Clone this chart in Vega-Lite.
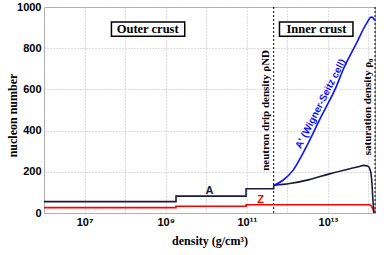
{
  "$schema": "https://vega.github.io/schema/vega-lite/v6.json",
  "width": 331,
  "height": 206,
  "autosize": {"type": "none"},
  "padding": {"left": 44, "top": 7, "right": 15, "bottom": 42},
  "background": "white",
  "config": {
    "view": {"stroke": "#aaaaaa", "strokeWidth": 1}
  },
  "datasets": {
    "steps": [
      {"s": "A", "i": 1, "x": 1e6, "y": 55},
      {"s": "A", "i": 2, "x": 1.8e9, "y": 55},
      {"s": "A", "i": 3, "x": 1.8e9, "y": 82},
      {"s": "A", "i": 4, "x": 9.6e10, "y": 82},
      {"s": "A", "i": 5, "x": 9.6e10, "y": 118},
      {"s": "A", "i": 6, "x": 4.6e11, "y": 118},
      {"s": "A", "i": 7, "x": 4.6e11, "y": 134},
      {"s": "Z", "i": 1, "x": 1e6, "y": 26},
      {"s": "Z", "i": 2, "x": 1.8e9, "y": 26},
      {"s": "Z", "i": 3, "x": 1.8e9, "y": 33},
      {"s": "Z", "i": 4, "x": 9.6e10, "y": 33},
      {"s": "Z", "i": 5, "x": 9.6e10, "y": 40},
      {"s": "Z", "i": 6, "x": 1.05e14, "y": 40},
      {"s": "Z", "i": 7, "x": 1.12e14, "y": 38},
      {"s": "Z", "i": 8, "x": 1.2e14, "y": 32},
      {"s": "Z", "i": 9, "x": 1.28e14, "y": 20},
      {"s": "Z", "i": 10, "x": 1.35e14, "y": 7},
      {"s": "Z", "i": 11, "x": 1.4e14, "y": 0}
    ],
    "curves": [
      {"s": "A", "x": 4.6e11, "y": 134},
      {"s": "A", "x": 1.15e12, "y": 143},
      {"s": "A", "x": 3.5e12, "y": 162},
      {"s": "A", "x": 1.1e13, "y": 190},
      {"s": "A", "x": 3.5e13, "y": 215},
      {"s": "A", "x": 6.0e13, "y": 226},
      {"s": "A", "x": 7.5e13, "y": 231},
      {"s": "A", "x": 9.5e13, "y": 228},
      {"s": "A", "x": 1.11e14, "y": 207},
      {"s": "A", "x": 1.22e14, "y": 143},
      {"s": "A", "x": 1.29e14, "y": 62},
      {"s": "A", "x": 1.37e14, "y": 0},
      {"s": "A'", "x": 4.6e11, "y": 134},
      {"s": "A'", "x": 7.8e11, "y": 159},
      {"s": "A'", "x": 1.38e12, "y": 207},
      {"s": "A'", "x": 2.4e12, "y": 288},
      {"s": "A'", "x": 4.27e12, "y": 385},
      {"s": "A'", "x": 6.3e12, "y": 455},
      {"s": "A'", "x": 9.1e12, "y": 515},
      {"s": "A'", "x": 1.62e13, "y": 615},
      {"s": "A'", "x": 2.34e13, "y": 693},
      {"s": "A'", "x": 5.0e13, "y": 822},
      {"s": "A'", "x": 8.9e13, "y": 919},
      {"s": "A'", "x": 1.17e14, "y": 951},
      {"s": "A'", "x": 1.3e14, "y": 948},
      {"s": "A'", "x": 1.42e14, "y": 935}
    ],
    "boxes": [
      {"x": 4.6e7, "x2": 2.95e9, "y": 858, "y2": 927},
      {"x": 6.4e11, "x2": 4.15e13, "y": 858, "y2": 927}
    ],
    "boxText": [
      {"t": "Outer crust", "x": 3.6e8, "y": 892},
      {"t": "Inner crust", "x": 5.2e12, "y": 892}
    ],
    "rules": [
      {"x": 4.6e11},
      {"x": 1.45e14}
    ],
    "vText": [
      {"t": "neutron drip density ρND", "x": 3.0e11, "y": 498},
      {"t": "saturation density ρ₀", "x": 9.5e13, "y": 515}
    ],
    "seriesText": [
      {"s": "A", "t": "A", "x": 1.2e10, "y": 105},
      {"s": "Z", "t": "Z", "x": 2.2e11, "y": 62}
    ],
    "primeText": [
      {"s": "A'", "t": "A' (Wigner-Seitz cell)", "x": 6.6e12, "y": 530}
    ]
  },
  "layer": [
    {
      "data": {"name": "boxes"},
      "mark": {"type": "rect", "fill": "white", "stroke": "black", "strokeWidth": 1.5},
      "encoding": {
        "x": {
          "field": "x", "type": "quantitative",
          "scale": {"type": "log", "domain": [1e6, 1.45e14], "nice": false},
          "axis": {
            "title": "density (g/cm³)",
            "values": [1e6, 1e7, 1e8, 1e9, 1e10, 1e11, 1e12, 1e13, 1e14],
            "labelExpr": "datum.value == 1e7 ? '10⁷' : datum.value == 1e9 ? '10⁹' : datum.value == 1e11 ? '10¹¹' : datum.value == 1e13 ? '10¹³' : ''",
            "grid": true, "gridDash": [1, 2], "gridColor": "#bbbbbb",
            "ticks": false, "domain": false,
            "labelFont": "Liberation Sans", "labelFontWeight": "bold", "labelFontSize": 11, "labelColor": "black",
            "labelPadding": 3, "labelFlush": false,
            "titleFont": "Liberation Serif", "titleFontWeight": "bold", "titleFontSize": 12, "titleColor": "black",
            "titlePadding": 8
          }
        },
        "x2": {"field": "x2"},
        "y": {
          "field": "y", "type": "quantitative",
          "scale": {"domain": [0, 1000], "nice": false},
          "axis": {
            "title": "nucleon number",
            "values": [0, 50, 100, 150, 200, 250, 300, 350, 400, 450, 500, 550, 600, 650, 700, 750, 800, 850, 900, 950, 1000],
            "format": "d",
            "labelExpr": "datum.value % 200 == 0 ? datum.label : ''",
            "grid": true, "gridDash": [1, 2], "gridColor": "#bbbbbb",
            "ticks": false, "domain": false,
            "labelFont": "Liberation Sans", "labelFontWeight": "bold", "labelFontSize": 11, "labelColor": "black",
            "labelPadding": 3,
            "titleFont": "Liberation Serif", "titleFontWeight": "bold", "titleFontSize": 12, "titleColor": "black",
            "titleX": -32, "titleY": 108, "titleBaseline": "middle", "titleAngle": 270, "titleAlign": "center"
          }
        },
        "y2": {"field": "y2"}
      }
    },
    {
      "data": {"name": "boxText"},
      "mark": {"type": "text", "font": "Liberation Serif", "fontWeight": "bold", "fontSize": 12.5, "color": "black", "align": "center", "baseline": "middle"},
      "encoding": {
        "x": {"field": "x", "type": "quantitative"},
        "y": {"field": "y", "type": "quantitative"},
        "text": {"field": "t"}
      }
    },
    {
      "data": {"name": "rules"},
      "mark": {"type": "rule", "color": "black", "strokeWidth": 1, "strokeDash": [2, 2]},
      "encoding": {
        "x": {"field": "x", "type": "quantitative"}
      }
    },
    {
      "data": {"name": "steps"},
      "mark": {"type": "line", "strokeWidth": 1.6},
      "encoding": {
        "x": {"field": "x", "type": "quantitative"},
        "y": {"field": "y", "type": "quantitative"},
        "order": {"field": "i"},
        "detail": {"field": "s"},
        "color": {"field": "s", "type": "nominal", "scale": {"domain": ["A", "Z", "A'"], "range": ["#1a1a3a", "#ff0000", "#1010ff"]}, "legend": null}
      }
    },
    {
      "data": {"name": "curves"},
      "mark": {"type": "line", "strokeWidth": 1.6, "interpolate": "monotone"},
      "encoding": {
        "x": {"field": "x", "type": "quantitative"},
        "y": {"field": "y", "type": "quantitative"},
        "detail": {"field": "s"},
        "color": {"field": "s", "type": "nominal", "legend": null}
      }
    },
    {
      "data": {"name": "vText"},
      "mark": {"type": "text", "font": "Liberation Serif", "fontWeight": "bold", "fontSize": 11, "color": "black", "angle": 270, "align": "center", "baseline": "middle"},
      "encoding": {
        "x": {"field": "x", "type": "quantitative"},
        "y": {"field": "y", "type": "quantitative"},
        "text": {"field": "t"}
      }
    },
    {
      "data": {"name": "seriesText"},
      "mark": {"type": "text", "font": "Liberation Sans", "fontWeight": "bold", "fontSize": 11, "align": "center", "baseline": "middle"},
      "encoding": {
        "x": {"field": "x", "type": "quantitative"},
        "y": {"field": "y", "type": "quantitative"},
        "text": {"field": "t"},
        "color": {"field": "s", "type": "nominal", "legend": null}
      }
    },
    {
      "data": {"name": "primeText"},
      "mark": {"type": "text", "font": "Liberation Sans", "fontWeight": "bold", "fontSize": 10, "angle": 297, "align": "center", "baseline": "middle"},
      "encoding": {
        "x": {"field": "x", "type": "quantitative"},
        "y": {"field": "y", "type": "quantitative"},
        "text": {"field": "t"},
        "color": {"field": "s", "type": "nominal", "legend": null}
      }
    }
  ]
}
